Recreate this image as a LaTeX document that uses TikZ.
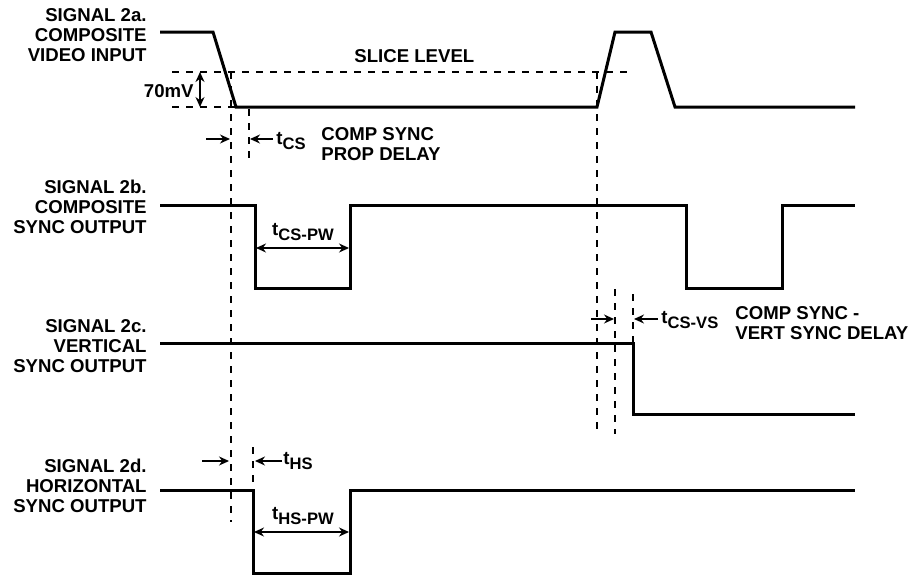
\documentclass[tikz,border=0pt]{standalone}
\usepackage{fontspec}
\setmainfont{Liberation Sans}
\usetikzlibrary{arrows.meta}
\newcommand{\tsub}[1]{t\raisebox{-0.45ex}{\fontsize{8.3}{8}\selectfont #1}}
\tikzset{
  wave/.style={line width=1.5pt, line join=miter},
  guide/.style={line width=0.9pt, dash pattern=on 3.5pt off 3.5pt},
  dim/.style={line width=0.65pt, -{Stealth[length=5pt,width=4.5pt]}},
  dimboth/.style={line width=0.65pt, {Stealth[length=5pt,width=4.5pt]}-{Stealth[length=5pt,width=4.5pt]}},
  lbl/.style={font=\fontsize{9.3}{10}\selectfont\bfseries, inner sep=0pt},
  siglbl/.style={lbl, anchor=east, align=right}
}
\begin{document}
\begin{tikzpicture}[x=0.5pt, y=-0.5pt]
    \useasboundingbox (0,0) rectangle (914,578);

    % SIGNAL 2a - video composite
    \node[siglbl] (la) at (147,35) {SIGNAL 2a.\\COMPOSITE\\VIDEO INPUT};
    \draw[wave] (160,32) -- (213,32) -- (236,107) -- (597,107) -- (615,32)
        -- (651,32) -- (675,107) -- (855,107);

    % Niveau de seuil
    \draw[guide] (172,72) -- (628,72);
    \draw[guide] (172,107) -- (236,107);
    \node[lbl, anchor=west] (slice) at (354,56) {SLICE LEVEL};

    % 70mV
    \coordinate (mvtop) at (200,72);
    \coordinate (mvbot) at (200,107);
    \draw[dimboth] (mvtop) -- (mvbot);
    \node[lbl, anchor=east] (mv) at (194,91) {70mV};

    % Retard tCS
    \draw[guide] (231,72) -- (231,522);
    \draw[guide] (249,109) -- (249,160);
    \coordinate (csA) at (206,139);
    \coordinate (csB) at (273,139);
    \draw[dim] (csA) -- (230,139);
    \draw[dim] (csB) -- (250,139);
    \node[lbl, anchor=west] (tcs) at (276,141) {\tsub{CS}};
    \node[lbl, anchor=west, align=left] (tcstxt) at (321,144) {COMP SYNC\\PROP DELAY};

    % SIGNAL 2b - composite sync
    \node[siglbl] (lb) at (147,207) {SIGNAL 2b.\\COMPOSITE\\SYNC OUTPUT};
    \draw[wave] (160,205) -- (255,205) -- (255,288) -- (350,288) -- (350,205)
        -- (686,205) -- (686,288) -- (782,288) -- (782,205) -- (855,205);
    \draw[dimboth] (256,248) -- (349,248);
    \node[lbl] (tcspw) at (303,232) {\tsub{CS-PW}};

    % SIGNAL 2c - vertical sync
    \node[siglbl] (lc) at (147,346) {SIGNAL 2c.\\VERTICAL\\SYNC OUTPUT};
    \draw[wave] (160,343) -- (633,343) -- (633,414) -- (855,414);

    % Retard tCS-VS
    \draw[guide] (597,72) -- (597,434);
    \draw[guide] (615,289) -- (615,434);
    \draw[guide] (633,294) -- (633,343);
    \coordinate (vsA) at (591,319);
    \coordinate (vsB) at (658,319);
    \draw[dim] (vsA) -- (614,319);
    \draw[dim] (vsB) -- (634,319);
    \node[lbl, anchor=west] (tcsvs) at (661,320) {\tsub{CS-VS}};
    \node[lbl, anchor=west, align=left] (vstxt) at (735,323) {COMP SYNC -\\VERT SYNC DELAY};

    % SIGNAL 2d - horizontal sync
    \node[siglbl] (ld) at (147,486) {SIGNAL 2d.\\HORIZONTAL\\SYNC OUTPUT};
    \draw[wave] (160,490) -- (253,490) -- (253,573) -- (350,573) -- (350,490) -- (855,490);
    \draw[guide] (253,447) -- (253,490);
    \coordinate (hsA) at (202,461);
    \coordinate (hsB) at (282,461);
    \draw[dim] (hsA) -- (229,461);
    \draw[dim] (hsB) -- (255,461);
    \node[lbl, anchor=west] (ths) at (283,461) {\tsub{HS}};
    \draw[dimboth] (254,532) -- (349,532);
    \node[lbl] (thspw) at (303,516) {\tsub{HS-PW}};
\end{tikzpicture}
\end{document}
